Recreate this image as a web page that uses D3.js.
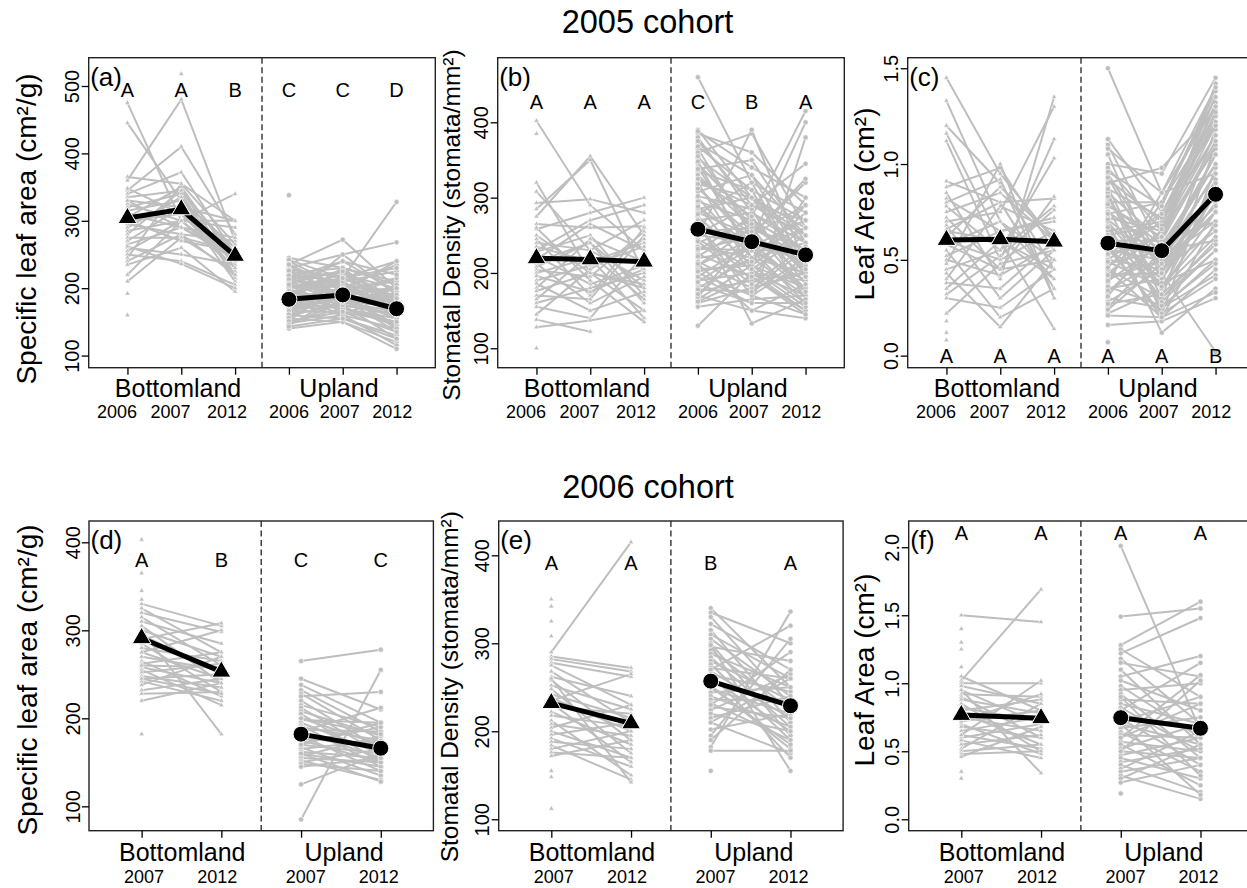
<!DOCTYPE html>
<html>
<head>
<meta charset="utf-8">
<script src="https://cdnjs.cloudflare.com/ajax/libs/d3/7.8.5/d3.min.js"></script>
<style>
  body { margin: 0; background: #fff; }
  text { font-family: "Liberation Sans", Arial, Helvetica, sans-serif; fill: #000; }
</style>
</head>
<body>
<div id="chart"></div>
<script>
// ---------- Data ----------
var cohortTitles = ["2005 cohort", "2006 cohort"];
var habitats = ["Bottomland", "Upland"];
var years05 = ["2006", "2007", "2012"];
var years06 = ["2007", "2012"];

// (a) Specific leaf area, 2005 cohort: [2006, 2007, 2012] per plant
var slaA_bot = [
  [475, 300, 240], [445, 330, 260], [365, 355, 300], [360, 480, 270], [345, 410, 280],
  [340, 372, 250], [335, 345, 230], [330, 320, 300], [325, 300, 340], [320, 340, 220],
  [315, 330, 260], [310, 290, 250], [305, 350, 240], [300, 310, 230], [295, 280, 270],
  [290, 335, 215], [285, 300, 290], [280, 345, 250], [275, 275, 225], [270, 320, 210],
  [265, 290, 245], [260, 250, 235], [255, 300, 300], [250, 240, 205], [245, 355, 265],
  [240, 280, 220], [235, 260, 195], [220, 300, 230], [210, 275, 255], [262, 236, 200],
  [300, 270, 255], [330, 290, 275], [348, 310, 240], [192, null, null], [160, null, null],
  [null, 518, null]
];
var slaA_up = [
  [338, null, null], [245, 230, 210], [240, 200, 235], [235, 272, 200], [230, 250, 190],
  [228, 215, 240], [225, 190, 180], [222, 230, 205], [220, 210, 225], [218, 175, 160],
  [215, 240, 195], [212, 200, 170], [210, 185, 215], [208, 225, 185], [205, 165, 150],
  [202, 195, 200], [200, 220, 175], [198, 180, 165], [195, 205, 190], [192, 160, 140],
  [190, 215, 230], [188, 170, 155], [185, 200, 180], [182, 230, 170], [180, 190, 145],
  [178, 160, 195], [175, 210, 165], [172, 185, 135], [170, 175, 160], [168, 200, 210],
  [165, 165, 150], [162, 195, 185], [160, 155, 130], [158, 180, 175], [155, 150, 120],
  [152, 205, 160], [150, 170, 145], [148, 160, 115], [145, 190, 170], [140, 150, 110],
  [200, 215, 328], [185, 250, 268], [175, 195, 240], [215, 185, 155], [195, 175, 125],
  [165, 220, 200], [242, 215, 180], [236, 195, 215], [226, 205, 175], [219, 190, 200],
  [213, 225, 165], [207, 180, 190], [201, 210, 155], [196, 170, 205], [189, 225, 180],
  [183, 185, 170], [177, 170, 150], [171, 215, 185], [166, 190, 140], [161, 175, 200],
  [156, 200, 170], [151, 165, 135], [146, 180, 160], [143, 155, 125], [235, 180, 160],
  [205, 240, 220]
];
var slaA_meanBot = [304, 317, 248];
var slaA_meanUp = [183.5, 190, 169.5];
var slaA_letters = ["A", "A", "B", "C", "C", "D"];

// (b) Stomatal density, 2005 cohort
var sdB_bot = [
  [402, 290, 230], [385, null, null], [320, 200, 180], [308, 230, 270], [293, 298, 280],
  [285, 350, 200], [275, 355, 250], [265, 260, 262], [258, 280, 300], [250, 200, 150],
  [245, 170, 260], [240, 230, 190], [235, 215, 240], [228, 250, 170], [222, 185, 210],
  [218, 265, 230], [212, 160, 195], [208, 240, 160], [204, 195, 255], [200, 220, 140],
  [196, 175, 205], [190, 210, 235], [186, 150, 175], [180, 245, 215], [176, 200, 185],
  [170, 165, 250], [165, 225, 165], [160, 180, 200], [155, 140, 225], [145, 205, 245],
  [138, 122, null], [128, 137, 150], [100, null, null], [260, 190, 135], [230, 270, 290],
  [215, 240, 180]
];
var sdB_up = [
  [460, 320, 280], [390, 300, 250], [385, 360, 290], [380, 280, 230], [372, 330, 210],
  [365, 250, 320], [360, 385, 260], [352, 300, 240], [345, 270, 200], [340, 230, 190],
  [335, 310, 270], [330, 260, 220], [322, 290, 345], [315, 240, 180], [308, 330, 250],
  [300, 220, 200], [295, 270, 230], [290, 200, 170], [285, 300, 260], [280, 250, 210],
  [275, 210, 160], [270, 280, 240], [265, 230, 190], [260, 190, 300], [255, 260, 220],
  [250, 240, 180], [245, 205, 250], [240, 270, 200], [235, 220, 170], [230, 250, 290],
  [225, 195, 150], [220, 230, 230], [215, 180, 200], [210, 260, 175], [205, 210, 260],
  [200, 170, 145], [195, 240, 215], [190, 200, 190], [185, 160, 160], [180, 220, 240],
  [175, 190, 200], [170, 150, 140], [165, 210, 180], [160, 180, 230], [155, 165, 170],
  [130, 200, 150], [250, 390, 210], [230, 275, 415], [210, 245, 400], [195, 160, 380],
  [270, 133, 165], [320, 205, 155], [388, 340, 300], [375, 290, 270], [368, 310, 195],
  [355, 260, 230], [348, 220, 280], [338, 350, 240], [325, 275, 185], [318, 300, 210],
  [312, 250, 325], [302, 285, 165], [288, 235, 270], [278, 320, 195], [262, 170, 215],
  [252, 290, 250], [242, 185, 235], [232, 230, 160], [222, 265, 205], [212, 150, 185],
  [202, 215, 290], [188, 235, 175], [178, 175, 220], [168, 255, 195], [162, 195, 145],
  [172, 230, 260]
];
var sdB_meanBot = [219.5, 218, 215];
var sdB_meanUp = [258, 241.5, 224];
var sdB_letters = ["A", "A", "A", "C", "B", "A"];

// (c) Leaf area, 2005 cohort
var laC_bot = [
  [1.45, 0.95, 0.6], [1.33, 0.7, 0.5], [1.2, 0.9, 0.45], [1.16, 0.6, 0.4], [1.12, 0.5, 0.65],
  [0.91, 0.8, 0.82], [0.88, 0.98, 0.55], [0.85, 0.4, 1.35], [0.82, 0.65, 0.7], [0.8, 0.92, 0.3],
  [0.78, 0.55, 0.78], [0.75, 0.85, 0.6], [0.72, 0.45, 0.5], [0.7, 0.75, 1.3], [0.68, 0.3, 0.55],
  [0.65, 0.6, 0.45], [0.62, 0.88, 0.62], [0.6, 0.5, 1.13], [0.58, 0.7, 0.4], [0.55, 0.2, 0.35],
  [0.52, 0.65, 0.72], [0.5, 0.42, 0.58], [0.48, 1.0, 0.3], [0.45, 0.55, 1.03], [0.43, 0.15, 0.5],
  [0.4, 0.78, 0.65], [0.38, 0.35, 0.6], [0.35, 0.6, 0.14], [0.32, 0.52, 0.76], [0.3, 0.25, 0.45],
  [0.22, 0.48, 0.55], [0.58, 0.45, 0.83], [0.66, 0.8, 0.35], [0.18, null, null], [0.12, null, null],
  [0.08, null, null]
];
var laC_up = [
  [1.5, 0.85, 0.95], [1.13, 0.75, 1.2], [1.1, 0.55, 1.0], [1.05, 0.4, 0.85], [1.0, 0.95, 1.45],
  [0.95, 0.5, 0.7], [0.92, 0.7, 1.3], [0.88, 0.3, 0.6], [0.85, 0.6, 1.1], [0.82, 0.45, 0.9],
  [0.8, 0.8, 1.38], [0.77, 0.25, 0.5], [0.75, 0.55, 1.05], [0.72, 0.65, 1.25], [0.7, 0.35, 0.75],
  [0.68, 0.5, 0.95], [0.65, 0.7, 1.15], [0.62, 0.4, 0.8], [0.6, 0.6, 1.32], [0.58, 0.2, 0.45],
  [0.55, 0.5, 0.88], [0.52, 0.75, 1.2], [0.5, 0.45, 0.65], [0.48, 0.55, 1.0], [0.45, 0.3, 0.55],
  [0.43, 0.65, 1.08], [0.4, 0.5, 0.78], [0.38, 0.85, 1.4], [0.35, 0.4, 0.92], [0.33, 0.6, 0.7],
  [0.3, 0.25, 0.42], [0.28, 0.45, 1.18], [0.25, 0.55, 0.6], [0.22, 0.35, 0.85], [0.16, 0.18, 0.3],
  [0.9, 0.98, 1.28], [0.7, 0.12, 0.35], [0.6, 0.43, 0.02], [0.85, 0.22, 0.98], [0.5, 0.7, 1.35],
  [0.65, 0.3, 1.1], [0.4, 0.8, 1.25], [0.55, 0.38, 0.5], [0.78, 0.62, 1.42], [0.45, 0.2, 0.7],
  [1.08, 0.85, 1.3], [0.98, 0.65, 1.15], [0.93, 0.45, 0.75], [0.87, 0.72, 1.22], [0.83, 0.35, 0.62],
  [0.79, 0.58, 1.0], [0.74, 0.8, 1.35], [0.71, 0.48, 0.85], [0.67, 0.28, 0.55], [0.63, 0.68, 1.27],
  [0.59, 0.52, 0.95], [0.56, 0.22, 0.4], [0.53, 0.62, 1.12], [0.49, 0.36, 0.68], [0.46, 0.74, 1.3],
  [0.42, 0.43, 0.9], [0.39, 0.58, 0.82], [0.36, 0.26, 0.48], [0.34, 0.5, 1.05], [0.31, 0.66, 1.2],
  [0.27, 0.32, 0.58], [0.24, 0.48, 0.75], [0.21, 0.2, 0.33], [0.96, 0.78, 1.4], [0.07, null, null]
];
var laC_meanBot = [0.604, 0.607, 0.595];
var laC_meanUp = [0.587, 0.548, 0.842];
var laC_letters = ["A", "A", "A", "A", "A", "B"];

// (d) Specific leaf area, 2006 cohort: [2007, 2012] per plant
var slaD_bot = [
  [330, 305], [325, 275], [320, 298], [315, 260], [310, 285], [305, 240], [300, 270],
  [295, 250], [290, 308], [285, 230], [280, 265], [275, 245], [270, 255], [265, 225],
  [262, 275], [258, 240], [255, 215], [252, 262], [248, 235], [245, 250], [242, 220],
  [238, 270], [232, 245], [228, 230], [220, 240], [300, 182], [275, 300], [260, 258],
  [245, 228], [403, null], [365, null], [345, null], [335, null], [182, null]
];
var slaD_up = [
  [265, 278], [245, 210], [238, 195], [232, 185], [228, 175], [225, 230], [220, 165],
  [215, 190], [212, 160], [208, 180], [205, 150], [200, 170], [198, 195], [195, 160],
  [192, 145], [190, 175], [187, 185], [185, 155], [182, 165], [180, 140], [177, 170],
  [175, 150], [172, 190], [170, 160], [167, 135], [165, 175], [162, 155], [160, 145],
  [157, 180], [155, 150], [152, 130], [150, 165], [148, 140], [145, 155], [125, 160],
  [85, 255], [185, 212], [160, 128], [200, 182], [170, 195]
];
var slaD_meanBot = [291, 253];
var slaD_meanUp = [182, 166];
var slaD_letters = ["A", "B", "C", "C"];

// (e) Stomatal density, 2006 cohort
var sdE_bot = [
  [290, 415], [285, 272], [282, 268], [278, 262], [275, 230], [268, 210], [262, 240],
  [258, 190], [252, 225], [248, 175], [242, 215], [238, 200], [232, 165], [228, 220],
  [222, 185], [218, 205], [212, 150], [208, 195], [204, 230], [200, 170], [196, 210],
  [192, 160], [188, 180], [184, 145], [180, 200], [176, 170], [172, 190], [260, 142],
  [235, 265], [350, null], [342, null], [325, null], [308, null], [155, null], [148, null],
  [112, null]
];
var sdE_up = [
  [340, 250], [335, 300], [330, 230], [322, 270], [315, 210], [310, 260], [305, 240],
  [300, 195], [296, 280], [292, 225], [288, 250], [284, 205], [280, 235], [276, 190],
  [272, 260], [268, 215], [264, 245], [260, 200], [256, 230], [252, 180], [248, 220],
  [244, 250], [240, 205], [236, 235], [232, 190], [228, 215], [224, 265], [220, 200],
  [215, 240], [210, 175], [202, 220], [195, 305], [190, 270], [182, 336], [178, 178],
  [298, 155], [270, 320], [250, 185], [230, 290], [210, 260], [265, 170], [155, null]
];
var sdE_meanBot = [232, 209];
var sdE_meanUp = [257, 229];
var sdE_letters = ["A", "A", "B", "A"];

// (f) Leaf area, 2006 cohort
var laF_bot = [
  [1.5, 1.45], [1.05, 0.8], [1.02, 1.69], [1.0, 1.0], [0.98, 0.85], [0.95, 0.7], [0.92, 0.9],
  [0.9, 0.6], [0.88, 0.78], [0.85, 0.5], [0.82, 0.72], [0.8, 0.88], [0.78, 0.55], [0.75, 0.65],
  [0.72, 0.8], [0.7, 0.48], [0.68, 0.6], [0.65, 0.75], [0.62, 0.52], [0.6, 0.7], [0.58, 0.45],
  [0.55, 0.62], [0.52, 0.85], [0.5, 0.55], [0.48, 0.5], [0.46, 0.68], [0.95, 0.34], [0.62, 1.02],
  [0.72, 0.92], [1.4, null], [1.3, null], [1.25, null], [1.12, null], [0.35, null], [0.3, null]
];
var laF_up = [
  [2.01, 0.65], [1.49, 1.55], [1.28, 1.6], [1.25, 0.9], [1.22, 1.48], [1.18, 0.7], [1.15, 1.05],
  [1.1, 0.55], [1.05, 1.2], [1.02, 0.8], [0.98, 0.6], [0.95, 1.0], [0.92, 0.45], [0.88, 0.85],
  [0.85, 0.7], [0.82, 0.5], [0.8, 1.15], [0.77, 0.65], [0.74, 0.4], [0.72, 0.9], [0.7, 0.55],
  [0.67, 0.75], [0.64, 0.35], [0.62, 0.6], [0.6, 0.85], [0.57, 0.5], [0.55, 0.25], [0.52, 0.7],
  [0.5, 0.45], [0.47, 0.6], [0.45, 0.3], [0.42, 0.52], [0.4, 0.2], [0.37, 0.65], [0.35, 0.45],
  [0.32, 0.15], [0.3, 0.55], [0.27, 0.4], [0.6, 1.06], [0.5, 1.02], [0.7, 0.18], [0.9, 0.32],
  [0.19, null]
];
var laF_meanBot = [0.767, 0.743];
var laF_meanUp = [0.747, 0.669];
var laF_letters = ["A", "A", "A", "A"];

// axis ticks and limits
var slaTicksA = [100, 200, 300, 400, 500];
var sdTicks = [100, 200, 300, 400];
var laTicksC = [0, 0.5, 1.0, 1.5];
var slaTicksD = [100, 200, 300, 400];
var laTicksF = [0, 0.5, 1.0, 1.5, 2.0];

var slaTitle = "Specific leaf area (cm\u00B2/g)";
var sdTitle = "Stomatal Density (stomata/mm\u00B2)";
var laTitle = "Leaf Area (cm\u00B2)";

// ---------- Layout ----------
var svgWidth = 1247;
var svgHeight = 888;

var svg = d3.select("#chart")
  .append("svg")
  .attr("width", svgWidth)
  .attr("height", svgHeight);

var row1 = { top: 57.7, height: 310, width: 346.6, xlim: [0.28, 6.72],
  yearAt: [0.805, 1.8, 2.85, 4.0, 4.945, 5.92], habAt: [1.94, 4.93],
  habBase: 396.5, yearBase: 418.2, split: 3.5 };
var row2 = { top: 521, height: 309.7, width: 344.4, xlim: [0.34, 4.66],
  yearAt: [1.03, 1.95, 3.06, 3.975], habAt: [1.51, 3.54],
  habBase: 860.5, yearBase: 883.3, split: 2.5 };

var panels = [
  { tag: "(a)", row: row1, left: 88.7, years: years05, bot: slaA_bot, up: slaA_up,
    meanBot: slaA_meanBot, meanUp: slaA_meanUp, letters: slaA_letters, letterY: 494,
    ticks: slaTicksA, fmt: d3.format("d"), ylim: [82, 542],
    title: slaTitle, titleSize: 28, titleX: 36, titleY: 229 },
  { tag: "(b)", row: row1, left: 497.7, years: years05, bot: sdB_bot, up: sdB_up,
    meanBot: sdB_meanBot, meanUp: sdB_meanUp, letters: sdB_letters, letterY: 427,
    ticks: sdTicks, fmt: d3.format("d"), ylim: [74.2, 485.8],
    title: sdTitle, titleSize: 24.5, titleX: 460, titleY: 225 },
  { tag: "(c)", row: row1, left: 907.7, years: years05, bot: laC_bot, up: laC_up,
    meanBot: laC_meanBot, meanUp: laC_meanUp, letters: laC_letters, letterY: 0,
    ticks: laTicksC, fmt: d3.format(".1f"), ylim: [-0.063, 1.555],
    title: laTitle, titleSize: 28, titleX: 874, titleY: 204 },
  { tag: "(d)", row: row2, left: 89, years: years06, bot: slaD_bot, up: slaD_up,
    meanBot: slaD_meanBot, meanUp: slaD_meanUp, letters: slaD_letters, letterY: 380,
    ticks: slaTicksD, fmt: d3.format("d"), ylim: [72.3, 424.2],
    title: slaTitle, titleSize: 28, titleX: 37, titleY: 680 },
  { tag: "(e)", row: row2, left: 498.7, years: years06, bot: sdE_bot, up: sdE_up,
    meanBot: sdE_meanBot, meanUp: sdE_meanUp, letters: sdE_letters, letterY: 391,
    ticks: sdTicks, fmt: d3.format("d"), ylim: [87, 439],
    title: sdTitle, titleSize: 24.5, titleX: 458, titleY: 686.7 },
  { tag: "(f)", row: row2, left: 908.7, years: years06, bot: laF_bot, up: laF_up,
    meanBot: laF_meanBot, meanUp: laF_meanUp, letters: laF_letters, letterY: 2.107,
    ticks: laTicksF, fmt: d3.format(".1f"), ylim: [-0.084, 2.193],
    title: laTitle, titleSize: 28, titleX: 874, titleY: 670 }
];

var grey = "#bebebe";

// R-style filled triangle (pch 24) centred on its centroid
function triPath(r) {
  var t0 = 1.5551 * r, t1 = 1.3468 * r, t2 = 0.7776 * r;
  return "M0," + (-t0) + "L" + t1 + "," + t2 + "L" + (-t1) + "," + t2 + "Z";
}

// Cohort titles
svg.append("text")
  .attr("x", 647.5).attr("y", 33)
  .attr("text-anchor", "middle")
  .attr("font-size", 32.5)
  .text(cohortTitles[0]);
svg.append("text")
  .attr("x", 648).attr("y", 498.3)
  .attr("text-anchor", "middle")
  .attr("font-size", 32.5)
  .text(cohortTitles[1]);

panels.forEach(function(p, pi) {
  var top = p.row.top, bottom = top + p.row.height;
  var right = p.left + p.row.width;
  var n = p.years.length;

  var x = d3.scaleLinear().domain(p.row.xlim).range([p.left, right]);
  var y = d3.scaleLinear().domain(p.ylim).range([bottom, top]);

  var g = svg.append("g");

  // clip data to the plot region
  var clipId = "clip" + pi;
  svg.append("clipPath").attr("id", clipId)
    .append("rect")
    .attr("x", p.left).attr("y", top)
    .attr("width", p.row.width).attr("height", p.row.height);
  var plot = g.append("g").attr("clip-path", "url(#" + clipId + ")");

  var line = d3.line()
    .defined(d => d[1] !== null)
    .x(d => x(d[0]))
    .y(d => y(d[1]));

  // individual plants: line then points, one plant at a time
  function drawGroup(rows, offset, shape) {
    rows.forEach(function(vals) {
      var pts = vals.map((v, i) => [offset + i, v]);
      plot.append("path")
        .attr("d", line(pts))
        .attr("fill", "none")
        .attr("stroke", grey)
        .attr("stroke-width", 2);
      pts.filter(d => d[1] !== null).forEach(function(d) {
        if (shape === "tri") {
          plot.append("path")
            .attr("d", triPath(2))
            .attr("transform", "translate(" + x(d[0]) + "," + y(d[1]) + ")")
            .attr("fill", grey)
            .attr("stroke", "#fff")
            .attr("stroke-width", 0.6);
        } else {
          plot.append("circle")
            .attr("cx", x(d[0])).attr("cy", y(d[1]))
            .attr("r", 2.6)
            .attr("fill", grey)
            .attr("stroke", "#fff")
            .attr("stroke-width", 0.6);
        }
      });
    });
  }
  drawGroup(p.bot, 1, "tri");
  drawGroup(p.up, n + 1, "circ");

  // group means
  var mb = p.meanBot.map((v, i) => [1 + i, v]);
  var mu = p.meanUp.map((v, i) => [n + 1 + i, v]);
  [mb, mu].forEach(function(m) {
    plot.append("path")
      .attr("d", line(m))
      .attr("fill", "none")
      .attr("stroke", "#000")
      .attr("stroke-width", 5);
  });
  mb.forEach(function(d) {
    plot.append("path")
      .attr("d", triPath(7))
      .attr("transform", "translate(" + x(d[0]) + "," + y(d[1]) + ")")
      .attr("fill", "#000")
      .attr("stroke", "#fff")
      .attr("stroke-width", 1);
  });
  mu.forEach(function(d) {
    plot.append("circle")
      .attr("cx", x(d[0])).attr("cy", y(d[1]))
      .attr("r", 8)
      .attr("fill", "#000")
      .attr("stroke", "#fff")
      .attr("stroke-width", 1);
  });

  // dashed divider between habitats
  g.append("line")
    .attr("x1", x(p.row.split)).attr("x2", x(p.row.split))
    .attr("y1", top).attr("y2", bottom)
    .attr("stroke", "#222")
    .attr("stroke-width", 1.3)
    .attr("stroke-dasharray", "6,3.5");

  // significance letters
  p.letters.forEach(function(l, i) {
    g.append("text")
      .attr("x", x(1 + i))
      .attr("y", y(p.letterY))
      .attr("dy", "0.36em")
      .attr("text-anchor", "middle")
      .attr("font-size", 20)
      .text(l);
  });

  // panel tag
  g.append("text")
    .attr("x", p.left + 1.5)
    .attr("y", top + 28)
    .attr("font-size", 26)
    .text(p.tag);

  // box
  g.append("rect")
    .attr("x", p.left).attr("y", top)
    .attr("width", p.row.width).attr("height", p.row.height)
    .attr("fill", "none")
    .attr("stroke", "#222")
    .attr("stroke-width", 1.4);

  // y axis with vertical labels
  var yAxis = g.append("g")
    .attr("transform", "translate(" + p.left + ",0)")
    .call(d3.axisLeft(y).tickValues(p.ticks).tickFormat(p.fmt).tickSize(7).tickSizeOuter(0));
  yAxis.select(".domain").remove();
  yAxis.selectAll(".tick line").attr("stroke", "#000").attr("stroke-width", 1.3);
  yAxis.selectAll(".tick text")
    .attr("transform", "rotate(-90)")
    .attr("x", 0).attr("y", -9.5).attr("dy", 0)
    .attr("text-anchor", "middle")
    .attr("font-size", 20)
    .attr("font-family", null)
    .attr("fill", "#000");

  // x axis: ticks only
  var xAxis = g.append("g")
    .attr("transform", "translate(0," + bottom + ")")
    .call(d3.axisBottom(x).tickValues(d3.range(1, 2 * n + 1)).tickFormat("").tickSize(7).tickSizeOuter(0));
  xAxis.select(".domain").remove();
  xAxis.selectAll(".tick line").attr("stroke", "#000").attr("stroke-width", 1.3);

  // habitat and year labels
  habitats.forEach(function(h, i) {
    g.append("text")
      .attr("x", x(p.row.habAt[i]))
      .attr("y", p.row.habBase)
      .attr("text-anchor", "middle")
      .attr("font-size", 25)
      .text(h);
  });
  p.row.yearAt.forEach(function(a, i) {
    g.append("text")
      .attr("x", x(a))
      .attr("y", p.row.yearBase)
      .attr("text-anchor", "middle")
      .attr("font-size", 18)
      .text(p.years[i % n]);
  });

  // y title
  g.append("text")
    .attr("transform", "translate(" + p.titleX + "," + p.titleY + ") rotate(-90)")
    .attr("text-anchor", "middle")
    .attr("font-size", p.titleSize)
    .text(p.title);
});
</script>
</body>
</html>
